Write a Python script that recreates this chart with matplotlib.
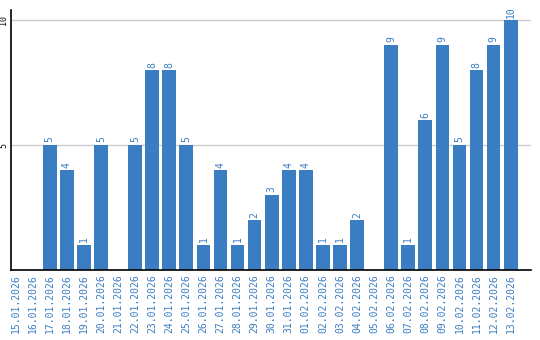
import matplotlib
matplotlib.use("Agg")
import matplotlib.pyplot as plt

dates = ["15.01.2026", "16.01.2026", "17.01.2026", "18.01.2026", "19.01.2026",
         "20.01.2026", "21.01.2026", "22.01.2026", "23.01.2026", "24.01.2026",
         "25.01.2026", "26.01.2026", "27.01.2026", "28.01.2026", "29.01.2026",
         "30.01.2026", "31.01.2026", "01.02.2026", "02.02.2026", "03.02.2026",
         "04.02.2026", "05.02.2026", "06.02.2026", "07.02.2026", "08.02.2026",
         "09.02.2026", "10.02.2026", "11.02.2026", "12.02.2026", "13.02.2026"]
values = [0, 0, 5, 4, 1, 5, 0, 5, 8, 8, 5, 1, 4, 1, 2, 3, 4, 4, 1, 1, 2, 0,
          9, 1, 6, 9, 5, 8, 9, 10]
yticks = [5, 10]

blue = "#3b7dc2"
font = "DejaVu Sans Mono"

fig = plt.figure(figsize=(5.4, 3.4), dpi=100)
ax = fig.add_axes([11/540, 1 - 270/340, 520/540, 260/340])

x = list(range(len(values)))
ax.bar(x, values, width=0.8, color=blue, zorder=2)
for xi, v in zip(x, values):
    if v > 0:
        ax.text(xi, v + 0.1, str(v), rotation=90, ha="center", va="bottom",
                color=blue, fontsize=7, family=font)

for yv in yticks:
    ax.axhline(yv, color="#cccccc", lw=1, zorder=1)

ax.set_xlim(-0.27, 30.19)
ax.set_ylim(0, 10.4)
ax.set_xticks(x)
ax.set_xticklabels(dates, rotation=90, color=blue, fontsize=7, family=font)
ax.set_yticks(yticks)
ax.set_yticklabels([str(t) for t in yticks], rotation=90, fontsize=6,
                   family=font, va="center")
ax.tick_params(axis="both", length=0, pad=3)
ax.tick_params(axis="y", pad=2)
for s in ["top", "right"]:
    ax.spines[s].set_visible(False)
ax.spines["left"].set_linewidth(1.2)
ax.spines["bottom"].set_linewidth(1.2)

fig.savefig("out.png", dpi=100)
